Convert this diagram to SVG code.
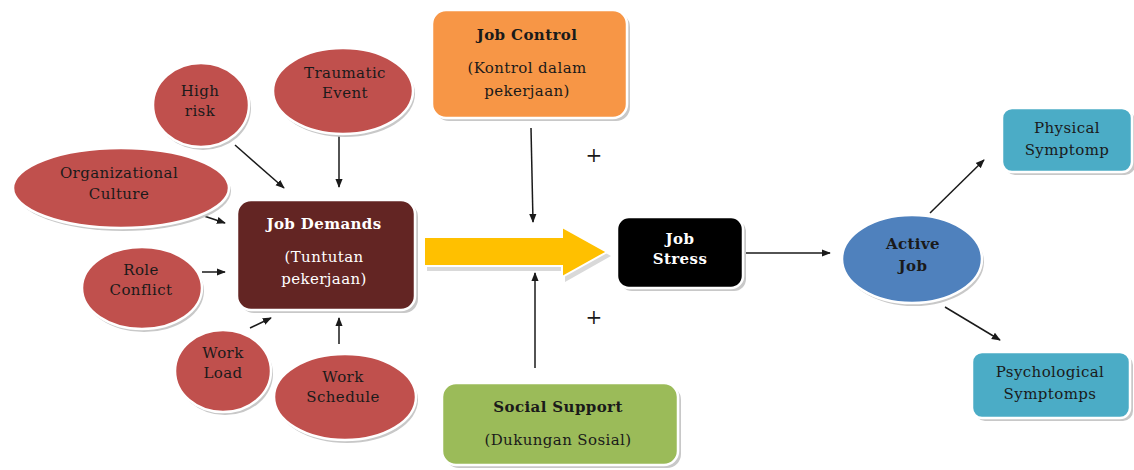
<svg xmlns="http://www.w3.org/2000/svg" width="1134" height="470" viewBox="0 0 1134 470">
<defs>
<style>
.t{font-family:"DejaVu Serif","Liberation Serif",serif;font-size:15px;letter-spacing:0.4px;text-anchor:middle;fill:#1a1a1a}
.b{font-weight:bold}
.w{fill:#ffffff}
.red{fill:#c0504d;stroke:#ffffff;stroke-width:2.5}
.sh{fill:#c8c8c8}
.ln{stroke:#1a1a1a;stroke-width:1.5;fill:none;marker-end:url(#ah)}
</style>
<marker id="ah" viewBox="0 0 10 10" refX="9" refY="5" markerWidth="9" markerHeight="9" orient="auto" markerUnits="userSpaceOnUse">
<path d="M0,1 L10,5 L0,9 Z" fill="#1a1a1a"/>
</marker>
</defs>
<rect width="1134" height="470" fill="#ffffff"/>

<g id="connectors">
<line class="ln" x1="235" y1="145" x2="284" y2="188"/>
<line class="ln" x1="339" y1="133" x2="339" y2="187"/>
<line class="ln" x1="195" y1="213" x2="225" y2="223"/>
<line class="ln" x1="202" y1="272" x2="225" y2="272"/>
<line class="ln" x1="250" y1="328" x2="271" y2="318"/>
<line class="ln" x1="339" y1="344" x2="339" y2="318"/>
<line class="ln" x1="531" y1="128" x2="533" y2="222"/>
<line class="ln" x1="535" y1="368" x2="535" y2="273"/>
<line class="ln" x1="745" y1="253" x2="830" y2="253"/>
<line class="ln" x1="930" y1="213" x2="984" y2="160"/>
<line class="ln" x1="945" y1="307" x2="1000" y2="340"/>
</g>

<g id="yellow-arrow">
<path d="M427,241 H565 V230 L611,256 L565,282 V271 H427 Z" fill="#d9d9d9"/>
<path d="M424,237 H562 V227 L607,252 L562,277 V266 H424 Z" fill="#ffc000" stroke="#ffffff" stroke-width="2"/>
</g>

<g id="high-risk">
<ellipse class="sh" cx="203" cy="108" rx="48" ry="42"/>
<ellipse class="red" cx="201" cy="105" rx="48" ry="42"/>
<text class="t" x="200" y="96">High</text>
<text class="t" x="200" y="116">risk</text>
</g>
<g id="traumatic-event">
<ellipse class="sh" cx="345" cy="94" rx="70" ry="43"/>
<ellipse class="red" cx="343" cy="91" rx="70" ry="43"/>
<text class="t" x="345" y="78">Traumatic</text>
<text class="t" x="345" y="98">Event</text>
</g>
<g id="organizational-culture">
<ellipse class="sh" cx="123" cy="191" rx="108" ry="40"/>
<ellipse class="red" cx="121" cy="188" rx="108" ry="40"/>
<text class="t" x="119" y="178">Organizational</text>
<text class="t" x="119" y="199">Culture</text>
</g>
<g id="role-conflict">
<ellipse class="sh" cx="144" cy="291" rx="60" ry="41"/>
<ellipse class="red" cx="142" cy="288" rx="60" ry="41"/>
<text class="t" x="141" y="275">Role</text>
<text class="t" x="141" y="295">Conflict</text>
</g>
<g id="work-load">
<ellipse class="sh" cx="225" cy="374" rx="48" ry="41"/>
<ellipse class="red" cx="223" cy="371" rx="48" ry="41"/>
<text class="t" x="223" y="358">Work</text>
<text class="t" x="223" y="378">Load</text>
</g>
<g id="work-schedule">
<ellipse class="sh" cx="347" cy="400" rx="71" ry="43"/>
<ellipse class="red" cx="345" cy="397" rx="71" ry="43"/>
<text class="t" x="343" y="382">Work</text>
<text class="t" x="343" y="402">Schedule</text>
</g>

<g id="job-demands">
<rect x="240" y="203" width="178" height="110" rx="14" fill="#c8c8c8"/>
<rect x="237" y="200" width="178" height="110" rx="14" fill="#632523" stroke="#ffffff" stroke-width="2.5"/>
<text class="t b w" x="324" y="229">Job Demands</text>
<text class="t w" x="324" y="262">(Tuntutan</text>
<text class="t w" x="324" y="284">pekerjaan)</text>
</g>

<g id="job-control">
<rect x="435" y="13" width="195" height="108" rx="14" fill="#c8c8c8"/>
<rect x="432" y="10" width="195" height="108" rx="14" fill="#f79646" stroke="#ffffff" stroke-width="2.5"/>
<text class="t b" x="527" y="40">Job Control</text>
<text class="t" x="527" y="73">(Kontrol dalam</text>
<text class="t" x="527" y="96">pekerjaan)</text>
</g>

<g id="job-stress">
<rect x="620" y="220" width="126" height="71" rx="12" fill="#c8c8c8"/>
<rect x="617" y="217" width="126" height="71" rx="12" fill="#000000" stroke="#ffffff" stroke-width="2.5"/>
<text class="t b w" x="680" y="244">Job</text>
<text class="t b w" x="680" y="264">Stress</text>
</g>

<g id="social-support">
<rect x="445" y="386" width="236" height="82" rx="14" fill="#c8c8c8"/>
<rect x="442" y="383" width="236" height="82" rx="14" fill="#9bbb59" stroke="#ffffff" stroke-width="2.5"/>
<text class="t b" x="558" y="412">Social Support</text>
<text class="t" x="558" y="445">(Dukungan Sosial)</text>
</g>

<g id="plus-signs">
<text class="t" x="594" y="162" style="font-size:20px">+</text>
<text class="t" x="594" y="324" style="font-size:20px">+</text>
</g>

<g id="active-job">
<ellipse class="sh" cx="914" cy="262" rx="70" ry="44"/>
<ellipse cx="912" cy="259" rx="70" ry="44" fill="#4f81bd" stroke="#ffffff" stroke-width="2.5"/>
<text class="t b" x="913" y="249">Active</text>
<text class="t b" x="913" y="271">Job</text>
</g>

<g id="physical-symptomp">
<rect x="1005" y="111" width="130" height="64" rx="10" fill="#c8c8c8"/>
<rect x="1002" y="108" width="130" height="64" rx="10" fill="#4bacc6" stroke="#ffffff" stroke-width="2.5"/>
<text class="t" x="1067" y="133">Physical</text>
<text class="t" x="1067" y="155">Symptomp</text>
</g>

<g id="psychological-symptomps">
<rect x="975" y="355" width="158" height="66" rx="10" fill="#c8c8c8"/>
<rect x="972" y="352" width="158" height="66" rx="10" fill="#4bacc6" stroke="#ffffff" stroke-width="2.5"/>
<text class="t" x="1050" y="377">Psychological</text>
<text class="t" x="1050" y="399">Symptomps</text>
</g>
</svg>
